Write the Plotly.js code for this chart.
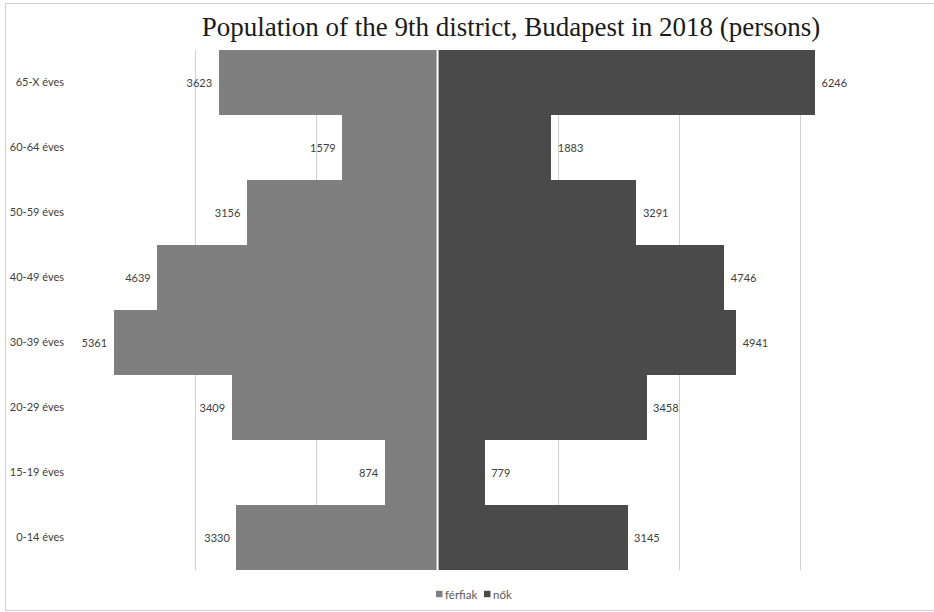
<!DOCTYPE html>
<html>
<head>
<meta charset="utf-8">
<script src="https://cdn.plot.ly/plotly-3.0.1.min.js"></script>
<style>
  html, body { margin: 0; padding: 0; background: #ffffff; }
  #chart { width: 934px; height: 612px; }
</style>
</head>
<body>
<div id="chart"></div>
<script>
// Age groups, bottom to top
const ageGroups = ['0-14 éves', '15-19 éves', '20-29 éves', '30-39 éves', '40-49 éves', '50-59 éves', '60-64 éves', '65-X éves'];
// Men (férfiak) and women (nők), persons
const men   = [3330, 874, 3409, 5361, 4639, 3156, 1579, 3623];
const women = [3145, 779, 3458, 4941, 4746, 3291, 1883, 6246];
const seriesNames = ['férfiak', 'nők'];
const seriesColors = ['#7f7f7f', '#4a4a4a'];
const gridTicks = [-6000, -4000, -2000, 2000, 4000, 6000, 8000];

const labelFont = { family: 'Lato, "Open Sans", sans-serif', size: 11, color: '#404040' };
const gap = '\u00a0\u200a';

// plot area in pixels, used to place the hand-made legend
const PLOT = { left: 75, right: 921, top: 50, bottom: 570 };
const px = x => (x - PLOT.left) / (PLOT.right - PLOT.left);
const py = y => (PLOT.bottom - y) / (PLOT.bottom - PLOT.top);

const traces = [
  {
    type: 'bar',
    orientation: 'h',
    name: seriesNames[0],
    y: ageGroups,
    x: men.map(v => -v),
    text: men.map(v => v + gap),
    textposition: 'outside',
    textfont: labelFont,
    cliponaxis: false,
    hoverinfo: 'y+text',
    marker: { color: seriesColors[0], line: { width: 0 } }
  },
  {
    type: 'bar',
    orientation: 'h',
    name: seriesNames[1],
    y: ageGroups,
    x: women,
    text: women.map(v => gap + v),
    textposition: 'outside',
    textfont: labelFont,
    cliponaxis: false,
    hoverinfo: 'y+text',
    marker: { color: seriesColors[1], line: { width: 0 } }
  }
];

// legend: a small square swatch followed by the series name
const legendItems = [
  { swatch: 436, text: 443 },
  { swatch: 484, text: 491 }
];
const legendY = 594;
const legendShapes = legendItems.map((it, i) => ({
  type: 'rect', xref: 'paper', yref: 'paper',
  x0: px(it.swatch), x1: px(it.swatch + 6.5),
  y0: py(legendY + 3.2), y1: py(legendY - 3.2),
  line: { width: 0 }, fillcolor: seriesColors[i]
}));
const legendLabels = legendItems.map((it, i) => ({
  xref: 'paper', yref: 'paper',
  x: px(it.text), y: py(legendY),
  xanchor: 'left', yanchor: 'middle',
  showarrow: false,
  text: seriesNames[i],
  font: { family: 'Lato, "Open Sans", sans-serif', size: 11.5, color: '#595959' }
}));

const layout = {
  width: 934,
  height: 612,
  paper_bgcolor: '#ffffff',
  plot_bgcolor: '#ffffff',
  margin: { l: 75, r: 13, t: 50, b: 42, autoexpand: false },
  barmode: 'relative',
  bargap: 0,
  showlegend: false,
  title: {
    text: 'Population of the 9th district, Budapest in 2018 (persons)',
    font: { family: '"Liberation Serif", "Times New Roman", serif', size: 27, color: '#1a1a1a' },
    x: 511 / 934,
    xref: 'container',
    xanchor: 'center',
    y: 1 - 27 / 612,
    yref: 'container',
    yanchor: 'middle'
  },
  xaxis: {
    range: [-6000, 8000],
    tickmode: 'array',
    tickvals: gridTicks,
    showticklabels: false,
    showgrid: true,
    gridcolor: '#cfcfcf',
    gridwidth: 1,
    zeroline: false,
    showline: false,
    fixedrange: true
  },
  yaxis: {
    type: 'category',
    categoryorder: 'array',
    categoryarray: ageGroups,
    showgrid: false,
    zeroline: false,
    showline: false,
    ticks: '',
    ticklabelstandoff: 10,
    tickfont: { family: 'Lato, "Open Sans", sans-serif', size: 11, color: '#404040' },
    fixedrange: true
  },
  annotations: legendLabels,
  shapes: [
    // thin white seam between the two halves of the pyramid
    { type: 'line', xref: 'x', yref: 'paper', x0: 0, x1: 0, y0: 0, y1: 1,
      line: { color: '#ffffff', width: 2 }, layer: 'above' },
    // outer frame of the chart
    { type: 'rect', xref: 'paper', yref: 'paper',
      x0: px(5.5), x1: px(940),
      y0: py(610.5), y1: py(3.5),
      line: { color: '#d0d0d0', width: 1 }, fillcolor: 'rgba(0,0,0,0)', layer: 'below' }
  ].concat(legendShapes)
};

Plotly.newPlot('chart', traces, layout, { displayModeBar: false, staticPlot: true });
</script>
</body>
</html>
